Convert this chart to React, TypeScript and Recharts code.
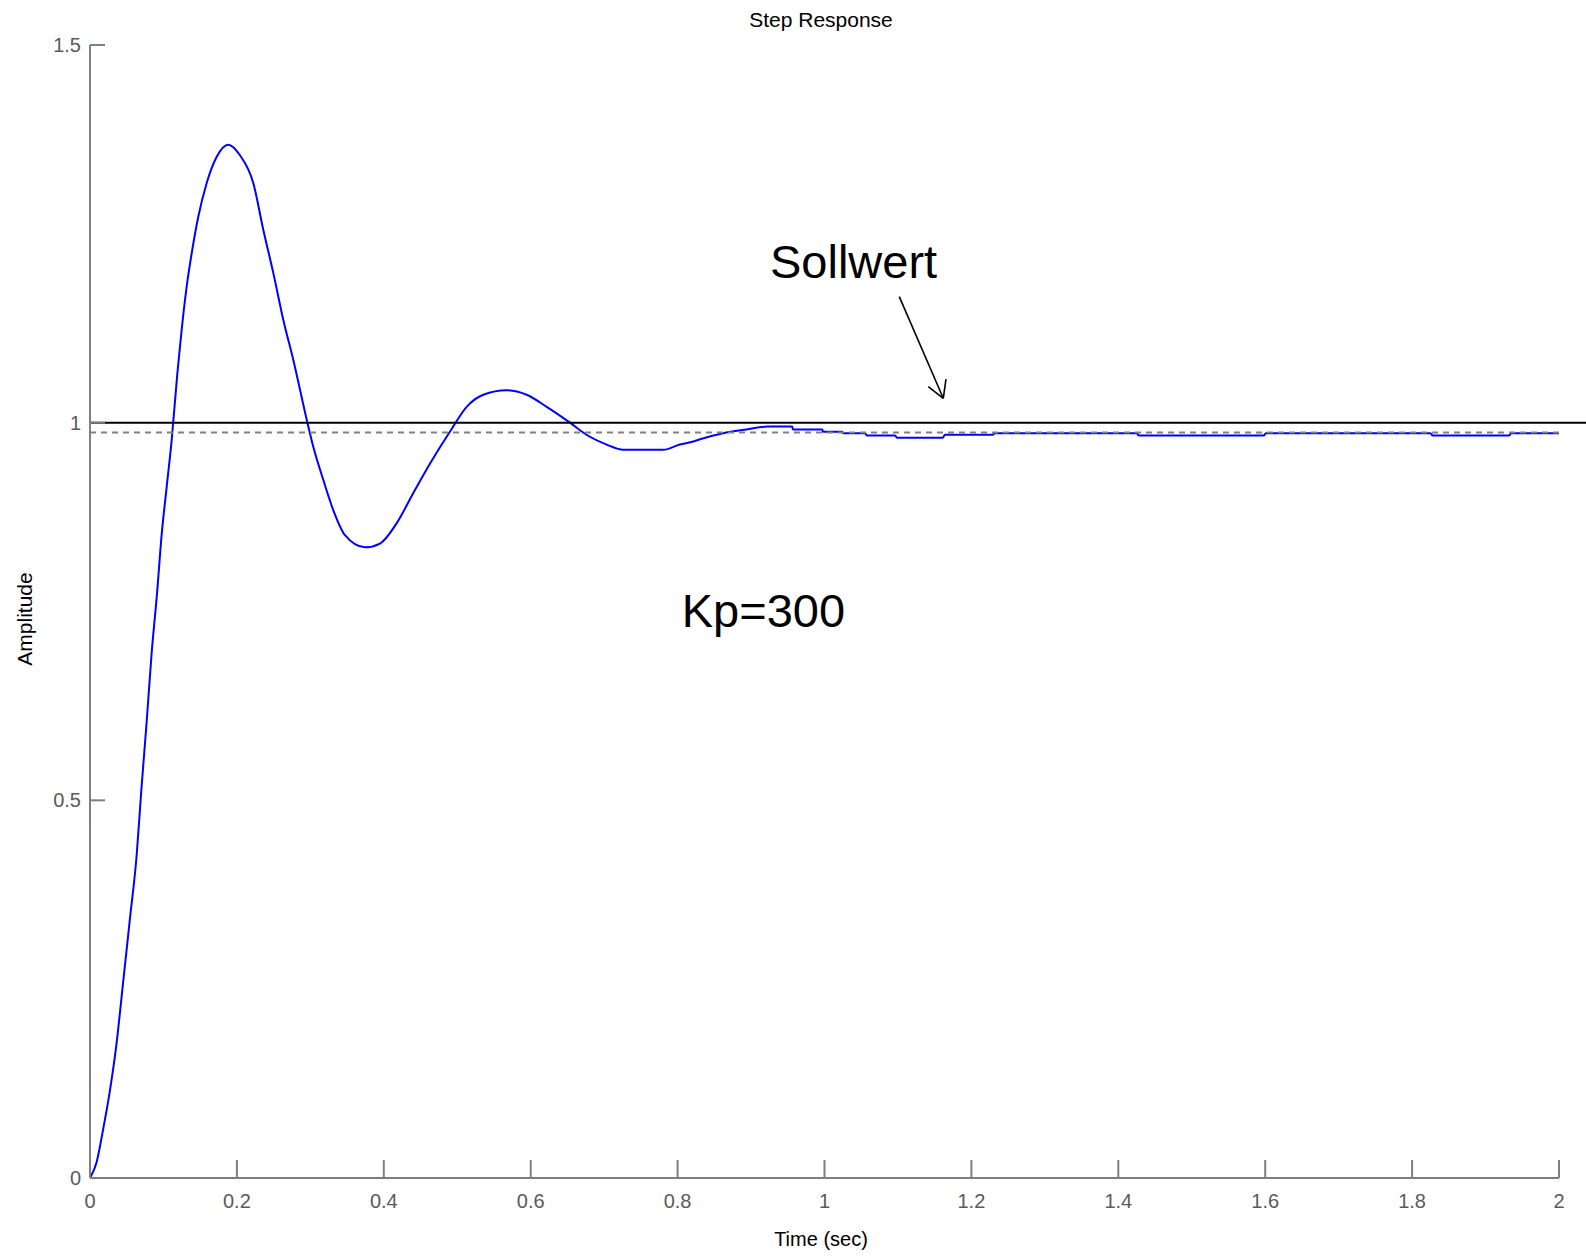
import React from 'react';
import { LineChart, Line, XAxis, YAxis, ReferenceLine, ReferenceDot } from 'recharts';

// ---- data ----
const TIME: number[] = [
  0, 0.009, 0.018, 0.027, 0.036, 0.045, 0.054, 0.0635, 0.07, 0.077, 0.084, 0.091, 0.0976, 0.1044, 0.1112,
  0.119, 0.1248, 0.1316, 0.1384, 0.1475, 0.1588, 0.1725, 0.1883, 0.2042, 0.2224, 0.236, 0.2496, 0.2632,
  0.2768, 0.296, 0.304, 0.3177, 0.3313, 0.3472, 0.3744, 0.3948, 0.4176, 0.4402, 0.463, 0.49, 0.5128,
  0.5355, 0.5673, 0.5945, 0.6218, 0.6535, 0.676, 0.7035, 0.726, 0.7806, 0.803, 0.8214, 0.8305, 0.862,
  0.894, 0.923, 0.956, 0.957, 0.997, 0.998, 1.024, 1.025, 1.055, 1.058, 1.096, 1.099, 1.161, 1.164,
  1.229, 1.232, 1.425, 1.428, 1.598, 1.601, 1.825, 1.828, 1.932, 1.935, 2.0,
];
const AMPLITUDE: number[] = [
  0, 0.021, 0.065, 0.115, 0.177, 0.258, 0.34, 0.427, 0.515, 0.602, 0.696, 0.771, 0.852, 0.915, 0.977,
  1.066, 1.123, 1.18, 1.224, 1.273, 1.317, 1.352, 1.368, 1.354, 1.317, 1.255, 1.198, 1.136,
  1.083, 1.0, 0.968, 0.924, 0.884, 0.851, 0.835, 0.84, 0.867, 0.907, 0.946, 0.988, 1.021,
  1.037, 1.043, 1.037, 1.021, 1.0, 0.984, 0.971, 0.964, 0.964, 0.971, 0.975, 0.978, 0.986,
  0.991, 0.995, 0.995, 0.991, 0.991, 0.988, 0.988, 0.986, 0.986, 0.983, 0.983, 0.98, 0.98, 0.984,
  0.984, 0.986, 0.986, 0.983, 0.983, 0.986, 0.986, 0.983, 0.983, 0.986, 0.986,
];
const X_TICKS: number[] = [0, 0.2, 0.4, 0.6, 0.8, 1, 1.2, 1.4, 1.6, 1.8, 2];
const Y_TICKS: number[] = [0, 0.5, 1, 1.5];
const SETPOINT = 1;
const STEADY_STATE = 0.987;

// annotations (data coordinates)
const SOLLWERT_POS = { x: 0.9258, y: 1.1912 };
const KP_POS = { x: 0.8056, y: 0.7299 };
const ARROW_SHAFT = [{ x: 1.1018, y: 1.1668 }, { x: 1.1617, y: 1.0323 }];
const ARROW_HEAD_A = [{ x: 1.1413, y: 1.0477 }, { x: 1.1617, y: 1.0323 }];
const ARROW_HEAD_B = [{ x: 1.1654, y: 1.0575 }, { x: 1.1617, y: 1.0323 }];

const data = TIME.map((t, i) => ({ t, y: AMPLITUDE[i] }));

const FONT = '"Liberation Sans", Arial, sans-serif';
const AXIS_GRAY = '#7f7f7f';
const LABEL_GRAY = '#5a5a5a';

const XTick = (props: any) => {
  const { x, y, payload } = props;
  return (
    <g>
      <line x1={x} x2={x} y1={y} y2={y - 18} stroke={AXIS_GRAY} strokeWidth={2} />
      <text x={x} y={y + 30} textAnchor="middle" fill={LABEL_GRAY} fontSize={20} fontFamily={FONT}>
        {payload.value}
      </text>
    </g>
  );
};

const YTick = (props: any) => {
  const { x, y, payload } = props;
  return (
    <g>
      <line x1={x} x2={x + 15} y1={y} y2={y} stroke={AXIS_GRAY} strokeWidth={2} />
      <text x={x - 9} y={y + 7} textAnchor="end" fill={LABEL_GRAY} fontSize={20} fontFamily={FONT}>
        {payload.value}
      </text>
    </g>
  );
};

export default function App() {
  return (
    <div style={{ position: 'absolute', left: 0, top: 0, width: 1586, height: 1258, background: '#fff' }}>
      <LineChart
        width={1586}
        height={1258}
        data={data}
        margin={{ top: 45, right: 27, left: 0, bottom: 0 }}
      >
        <XAxis
          dataKey="t"
          type="number"
          domain={[0, 2]}
          ticks={X_TICKS}
          height={80}
          tickSize={0}
          tickMargin={0}
          tickLine={false}
          tick={<XTick />}
          axisLine={{ stroke: AXIS_GRAY, strokeWidth: 2 }}
          allowDataOverflow
        />
        <YAxis
          type="number"
          domain={[0, 1.5]}
          ticks={Y_TICKS}
          width={90}
          tickSize={0}
          tickMargin={0}
          tickLine={false}
          tick={<YTick />}
          axisLine={{ stroke: AXIS_GRAY, strokeWidth: 2 }}
          allowDataOverflow
        />
        <Line
          type="monotone"
          dataKey="y"
          stroke="#0000ff"
          strokeWidth={2}
          dot={false}
          isAnimationActive={false}
        />
        <ReferenceLine
          y={STEADY_STATE}
          stroke="#808080"
          strokeWidth={2}
          strokeDasharray="6 5"
        />
        <ReferenceLine
          y={SETPOINT}
          shape={(p: any) => (
            <line x1={p.x1} y1={p.y1} x2={1586} y2={p.y2} stroke="#000" strokeWidth={2} />
          )}
        />
        <ReferenceLine segment={ARROW_SHAFT} stroke="#000" strokeWidth={1.6} ifOverflow="visible" />
        <ReferenceLine segment={ARROW_HEAD_A} stroke="#000" strokeWidth={1.6} ifOverflow="visible" />
        <ReferenceLine segment={ARROW_HEAD_B} stroke="#000" strokeWidth={1.6} ifOverflow="visible" />
        <ReferenceDot
          x={SOLLWERT_POS.x}
          y={SOLLWERT_POS.y}
          r={0}
          ifOverflow="visible"
          shape={(p: any) => (
            <text x={p.cx} y={p.cy} fontSize={47} fontFamily={FONT} fill="#000">
              Sollwert
            </text>
          )}
        />
        <ReferenceDot
          x={KP_POS.x}
          y={KP_POS.y}
          r={0}
          ifOverflow="visible"
          shape={(p: any) => (
            <text x={p.cx} y={p.cy} fontSize={47} fontFamily={FONT} fill="#000">
              Kp=300
            </text>
          )}
        />
        <text x={821} y={27} textAnchor="middle" fontSize={21} fontFamily={FONT} fill="#000">
          Step Response
        </text>
        <text x={821} y={1246} textAnchor="middle" fontSize={20} fontFamily={FONT} fill="#000">
          Time (sec)
        </text>
        <text
          transform="translate(32,619) rotate(-90)"
          textAnchor="middle"
          fontSize={21}
          fontFamily={FONT}
          fill="#000"
        >
          Amplitude
        </text>
      </LineChart>
    </div>
  );
}
